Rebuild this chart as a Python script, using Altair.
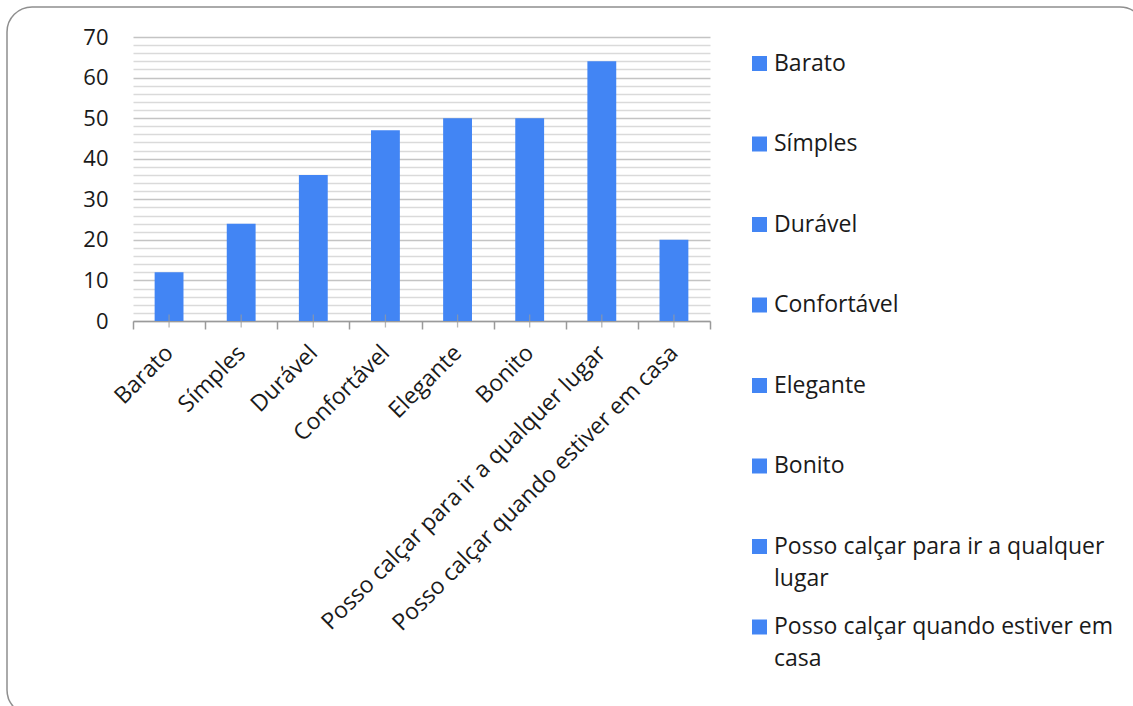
import altair as alt
import pandas as pd

categories = [
    "Barato",
    "Símples",
    "Durável",
    "Confortável",
    "Elegante",
    "Bonito",
    "Posso calçar para ir a qualquer lugar",
    "Posso calçar quando estiver em casa",
]
values = [12, 24, 36, 47, 50, 50, 64, 20]
y_ticks = list(range(0, 71, 2))
legend_wrap = {
    "Posso calçar para ir a qualquer lugar": ["Posso calçar para ir a qualquer", "lugar"],
    "Posso calçar quando estiver em casa": ["Posso calçar quando estiver em", "casa"],
}

BLUE = "#4285F4"
FONT = "Open Sans"
TEXT = "#1a1a1a"
GREY = "#9a9a9a"

df = pd.DataFrame({"cat": categories, "val": values})

label_expr = ""
for k, lines in legend_wrap.items():
    arr = "[" + ", ".join("'" + s + "'" for s in lines) + "]"
    label_expr += f"datum.label == '{k}' ? {arr} : "
label_expr += "datum.label"

x_axis = alt.Axis(
    title=None,
    labelAngle=-45,
    labelAlign="right",
    labelBaseline="middle",
    labelFontSize=23,
    labelFont=FONT,
    labelColor=TEXT,
    labelPadding=20,
    labelLimit=600,
    tickBand="extent",
    tickSize=8,
    tickColor=GREY,
    tickWidth=1.5,
    domainColor=GREY,
    domainWidth=1.5,
    grid=False,
)
x_scale = alt.Scale(paddingInner=0, paddingOuter=0)

y_axis = alt.Axis(
    title=None,
    values=y_ticks,
    labelExpr="datum.value % 10 === 0 ? datum.label : ''",
    labelOverlap=False,
    labelFlush=False,
    labelFontSize=22,
    labelFont=FONT,
    labelColor=TEXT,
    labelPadding=25,
    ticks=False,
    domain=False,
    grid=True,
    gridColor={"condition": {"test": "datum.value % 10 === 0", "value": "#c4c4c4"}, "value": "#dadada"},
    gridWidth=1.6,
)
y_scale = alt.Scale(domain=[0, 70], nice=False)

frame = alt.Chart(pd.DataFrame({"f": [0]})).mark_rect(
    fillOpacity=0, stroke="#8f8f8f", strokeWidth=1.5, cornerRadius=25
).encode(
    x=alt.value(-126), x2=alt.value(1012), y=alt.value(-30), y2=alt.value(678)
)

bars = alt.Chart(df).mark_bar(opacity=1, width=alt.RelativeBandSize(0.4)).encode(
    x=alt.X("cat:N", sort=categories, scale=x_scale, axis=x_axis),
    y=alt.Y("val:Q", scale=y_scale, axis=y_axis),
    color=alt.Color(
        "cat:N",
        sort=categories,
        scale=alt.Scale(domain=categories, range=[BLUE] * len(categories)),
        legend=alt.Legend(
            title=None,
            orient="none",
            legendX=615,
            legendY=15,
            padding=0,
            symbolType="square",
            symbolSize=225,
            symbolStrokeWidth=0,
            symbolOpacity=1,
            labelFontSize=23,
            labelFont=FONT,
            labelColor=TEXT,
            labelOffset=3,
            labelLimit=600,
            rowPadding=24.5,
            gridAlign="all",
            labelExpr=label_expr,
        ),
    ),
)

center_ticks = alt.Chart(df).transform_calculate(zero="0").mark_tick(
    orient="vertical", size=13, thickness=1.3, color=GREY
).encode(
    x=alt.X("cat:N", sort=categories, scale=x_scale, axis=x_axis),
    y=alt.Y("zero:Q", scale=y_scale, axis=y_axis),
)

chart = alt.layer(frame, bars, center_ticks).properties(
    width=577,
    height=284,
    autosize=alt.AutoSizeParams(type="none"),
    padding={"left": 133, "top": 37, "right": 423, "bottom": 385},
    background="white",
).configure(
    style={"guide-label": {"lineHeight": 32}}
).configure_view(strokeWidth=0)

chart.save("out.html", embed_options={"renderer": "svg", "actions": False})
